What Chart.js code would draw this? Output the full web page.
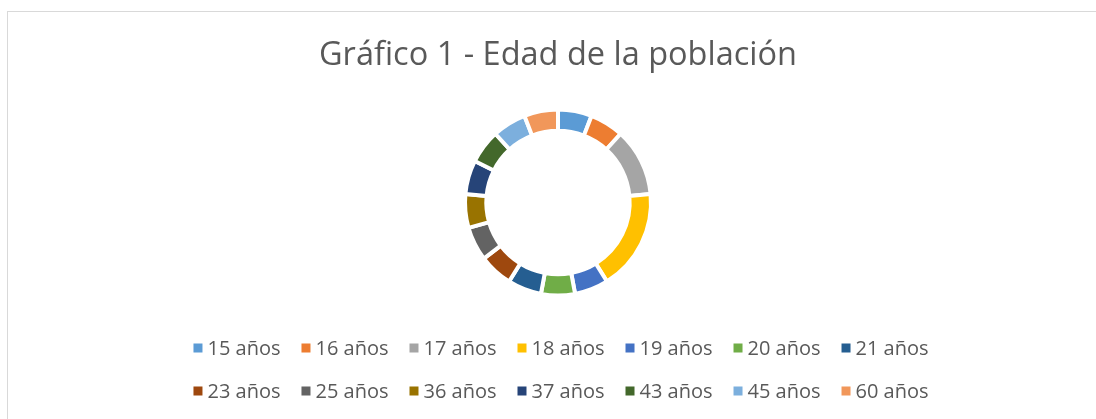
<!DOCTYPE html>
<html>
<head>
<meta charset="utf-8">
<script src="https://cdn.jsdelivr.net/npm/chart.js@4.4.0/dist/chart.umd.min.js"></script>
<style>
  html, body { margin: 0; padding: 0; background: #ffffff; overflow: hidden; }
  #frame {
    position: absolute; left: 7px; top: 11px;
    width: 1100px; height: 407px;
    border-left: 1px solid #d9d9d9; border-top: 1px solid #d9d9d9;
  }
</style>
</head>
<body>
<div id="frame"><canvas id="ageChart" width="1100" height="407"></canvas></div>
<script>
// Edades y número de personas
const ageLabels = ["15 años", "16 años", "17 años", "18 años", "19 años", "20 años", "21 años",
                   "23 años", "25 años", "36 años", "37 años", "43 años", "45 años", "60 años"];
const ageCounts = [1, 1, 2, 3, 1, 1, 1, 1, 1, 1, 1, 1, 1, 1];
const ageColors = ["#5B9BD5", "#ED7D31", "#A5A5A5", "#FFC000", "#4472C4", "#70AD47", "#255E91",
                   "#9E480E", "#636363", "#997300", "#264478", "#43682B", "#7CAFDD", "#F1975A"];

const textColor = "#595959";
const fontName = "'Open Sans', sans-serif";

// leyenda estilo Excel: cuadrado pequeño + texto, 7 elementos por fila
const excelLegend = {
    id: "excelLegend",
    afterDraw(chart) {
        const ctx = chart.ctx;
        const labels = chart.data.labels;
        const colors = chart.data.datasets[0].backgroundColor;
        const perRow = 7, box = 9, gap = 5, spacing = 21;
        const rowY = [336, 379];
        ctx.save();
        ctx.font = "20px " + fontName;
        ctx.textBaseline = "middle";
        ctx.textAlign = "left";
        for (let r = 0; r * perRow < labels.length; r++) {
            const items = labels.slice(r * perRow, (r + 1) * perRow);
            const widths = items.map(t => box + gap + ctx.measureText(t).width);
            const total = widths.reduce((a, b) => a + b, 0) + spacing * (items.length - 1);
            let x = chart.width / 2 + 3 - total / 2;
            items.forEach((t, i) => {
                ctx.fillStyle = colors[r * perRow + i];
                ctx.fillRect(x, rowY[r] - box / 2, box, box);
                ctx.fillStyle = textColor;
                ctx.fillText(t, x + box + gap, rowY[r] + 1);
                x += widths[i] + spacing;
            });
        }
        ctx.restore();
    }
};

const ctxAge = document.getElementById("ageChart").getContext("2d");
new Chart(ctxAge, {
    type: "doughnut",
    data: {
        labels: ageLabels,
        datasets: [{
            data: ageCounts,
            backgroundColor: ageColors,
            borderColor: "#ffffff",
            borderWidth: 4,
            hoverOffset: 0,
        }],
    },
    options: {
        responsive: false,
        animation: false,
        radius: 93,
        cutout: 69,
        layout: { padding: { top: 0, bottom: 125 } },
        plugins: {
            legend: { display: false },
            tooltip: { enabled: false },
            title: {
                display: true,
                text: "Gráfico 1 - Edad de la población",
                color: textColor,
                font: { family: fontName, size: 32.5, weight: "normal" },
                padding: { top: 24.5, bottom: 35.5 },
            },
        },
    },
    plugins: [excelLegend],
});
</script>
</body>
</html>
